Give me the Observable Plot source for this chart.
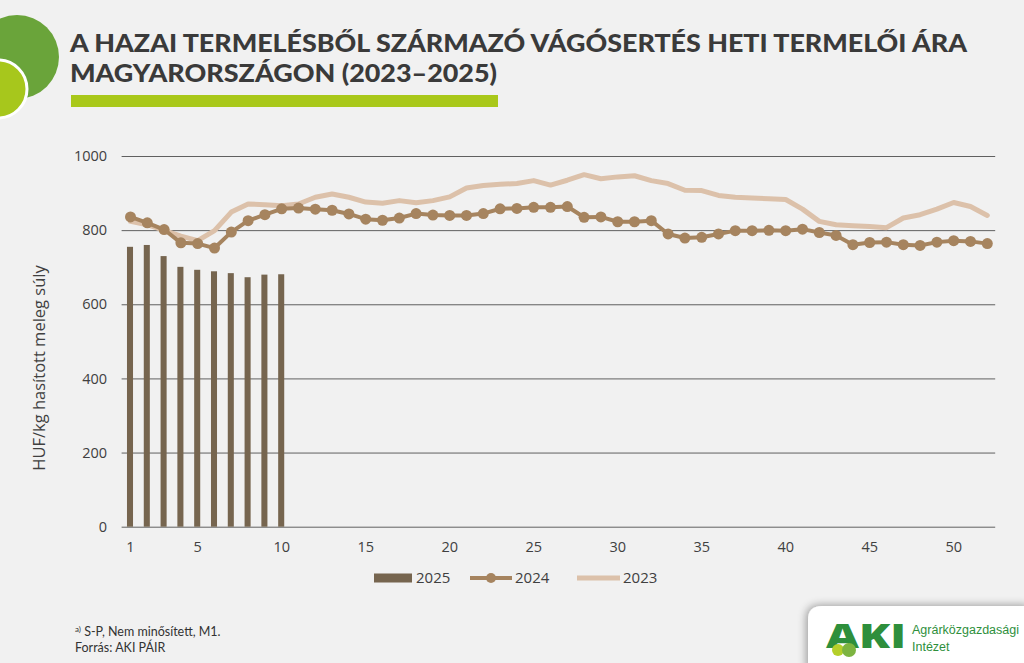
<!DOCTYPE html>
<html>
<head>
<meta charset="utf-8">
<script src="https://cdn.jsdelivr.net/npm/d3@7"></script>
<script src="https://cdn.jsdelivr.net/npm/@observablehq/plot@0.6"></script>
<style>
  html, body { margin: 0; padding: 0; background: #f1f1f1; }
  #page { position: relative; width: 1024px; height: 663px; overflow: hidden; background: #f1f1f1; font-family: "Open Sans", sans-serif; }
  #deco, #legend, #logo { position: absolute; left: 0; top: 0; }
  #chart { position: absolute; left: 0; top: 120px; }
  #foot { position: absolute; left: 75px; top: 621px; font-family: Lato, sans-serif; font-size: 12.5px; line-height: 16px; color: #333; }
  #foot sup { font-size: 8px; vertical-align: 4px; }
</style>
</head>
<body>
<div id="page">
  <svg id="deco" width="1024" height="120"></svg>
  <div id="chart"></div>
  <svg id="legend" width="1024" height="663" style="pointer-events:none"></svg>
  <div id="foot"><sup>a)</sup> S-P, Nem minősített, M1.<br>Forrás: AKI PÁIR</div>
  <svg id="logo" width="1024" height="663" style="pointer-events:none"></svg>
</div>
<script>
// ---- Data ----
const weeks = d3.range(1, 53);
const xTickLabels = [1, 5, 10, 15, 20, 25, 30, 35, 40, 45, 50];
const yTickLabels = [0, 200, 400, 600, 800, 1000];
const seriesNames = ["2025", "2024", "2023"];

const weeks2025 = [1, 2, 3, 4, 5, 6, 7, 8, 9, 10];
const values2025 = [755, 760, 730, 701, 693, 689, 684, 673, 680, 681];

const values2024 = [837, 821, 803, 767, 765, 753, 796, 827, 843, 859,
                    861, 858, 855, 845, 831, 828, 834, 846, 842, 841,
                    841, 846, 859, 860, 863, 863, 865, 836, 837, 824,
                    824, 827, 791, 780, 782, 791, 800, 800, 801, 800,
                    804, 795, 787, 762, 768, 769, 762, 760, 769, 773,
                    771, 765];

const values2023 = [825, 816, 801, 785, 773, 800, 850, 872, 870, 867,
                    872, 890, 899, 890, 877, 874, 881, 875, 881, 891,
                    915, 922, 925, 927, 935, 923, 936, 951, 940, 945,
                    948, 935, 927, 909, 908, 895, 890, 888, 886, 884,
                    858, 825, 816, 813, 811, 808, 834, 843, 858, 876,
                    865, 841];

const colors = { "2025": "#76654f", "2024": "#a6845f", "2023": "#dcc1aa" };

const data2025 = weeks2025.map((w, i) => ({ week: w, value: values2025[i] }));
const data2024 = weeks.map((w, i) => ({ week: w, value: values2024[i] }));
const data2023 = weeks.map((w, i) => ({ week: w, value: values2023[i] }));

// ---- Decoration / title ----
const deco = d3.select("#deco");
deco.append("circle").attr("cx", 17).attr("cy", 57).attr("r", 42).attr("fill", "#6aa43a");
deco.append("circle").attr("cx", -2).attr("cy", 89).attr("r", 29).attr("fill", "#a7c71c").attr("stroke", "#ffffff").attr("stroke-width", 3);
const titleLines = ["A HAZAI TERMELÉSBŐL SZÁRMAZÓ VÁGÓSERTÉS HETI TERMELŐI ÁRA", "MAGYARORSZÁGON (2023–2025)"];
const titleWidths = [897, 427];
const titleBaselines = [52, 81.5];
titleLines.forEach((t, i) => {
  deco.append("text").attr("x", 70).attr("y", titleBaselines[i])
    .attr("textLength", titleWidths[i]).attr("lengthAdjust", "spacingAndGlyphs")
    .attr("font-family", "Lato, sans-serif").attr("font-weight", 900).attr("font-size", 24)
    .attr("fill", "#3a3a3a").text(t);
});
deco.append("rect").attr("x", 71).attr("y", 95).attr("width", 427).attr("height", 12).attr("fill", "#a9c81a");

// ---- Chart ----
const H = 450;
const plot = Plot.plot({
  width: 1024,
  height: H,
  marginTop: 36,
  marginBottom: H - 406.7,
  marginLeft: 121.6,
  marginRight: 28.8,
  style: { background: "transparent", fontFamily: "'Open Sans', sans-serif", fontSize: "14px", color: "#404040" },
  x: { type: "band", domain: weeks, paddingInner: 0.64, paddingOuter: 0.32, label: null },
  y: { domain: [0, 1000], label: null },
  marks: [
    Plot.gridY(yTickLabels, { stroke: "#606060", strokeOpacity: 1, strokeWidth: 1 }),
    Plot.axisY(yTickLabels, { tickSize: 0, tickPadding: 15, label: null, fontSize: 14.5, fill: "#404040", tickFormat: d => String(d) }),
    Plot.axisX(xTickLabels, { tickSize: 0, tickPadding: 15, label: null, fontSize: 14.5, fill: "#404040" }),
    Plot.barY(data2025, { x: "week", y: "value", fill: colors["2025"] }),
    Plot.line(data2023, { x: "week", y: "value", stroke: colors["2023"], strokeWidth: 5 }),
    Plot.line(data2024, { x: "week", y: "value", stroke: colors["2024"], strokeWidth: 4 }),
    Plot.dot(data2024, { x: "week", y: "value", r: 5.5, fill: colors["2024"] })
  ]
});
document.getElementById("chart").appendChild(plot);
d3.select(plot).append("text")
  .attr("transform", "translate(45,248) rotate(-90)")
  .attr("text-anchor", "middle")
  .attr("font-family", "'Open Sans', sans-serif")
  .attr("font-size", 16.5).attr("fill", "#404040")
  .text("HUF/kg hasított meleg súly");

// ---- Legend ----
const lg = d3.select("#legend");
const ly = 578;
lg.append("rect").attr("x", 374).attr("y", ly - 4.5).attr("width", 38).attr("height", 9).attr("fill", colors["2025"]);
lg.append("line").attr("x1", 470).attr("x2", 512).attr("y1", ly).attr("y2", ly).attr("stroke", colors["2024"]).attr("stroke-width", 4);
lg.append("circle").attr("cx", 491).attr("cy", ly).attr("r", 5).attr("fill", colors["2024"]);
lg.append("line").attr("x1", 577).attr("x2", 620).attr("y1", ly).attr("y2", ly).attr("stroke", colors["2023"]).attr("stroke-width", 5);
[[416, seriesNames[0]], [515, seriesNames[1]], [623, seriesNames[2]]].forEach(([x, t]) => {
  lg.append("text").attr("x", x).attr("y", ly).attr("dy", "0.35em")
    .attr("font-family", "'Open Sans', sans-serif").attr("font-size", 15).attr("fill", "#404040").text(t);
});

// ---- Logo ----
const lo = d3.select("#logo");
const defs = lo.append("defs");
const f = defs.append("filter").attr("id", "sh").attr("x", "-20%").attr("y", "-40%").attr("width", "140%").attr("height", "180%");
f.append("feGaussianBlur").attr("in", "SourceAlpha").attr("stdDeviation", 4);
f.append("feOffset").attr("dx", -2).attr("dy", -1).attr("result", "b");
f.append("feComponentTransfer").append("feFuncA").attr("type", "linear").attr("slope", 0.35);
const m = f.append("feMerge"); m.append("feMergeNode"); m.append("feMergeNode").attr("in", "SourceGraphic");
lo.append("path").attr("d", "M808,670 L808,620 Q808,606 822,606 L1030,606 L1030,670 Z").attr("fill", "#ffffff").attr("filter", "url(#sh)");
lo.append("text").attr("x", 826).attr("y", 648).attr("textLength", 80).attr("lengthAdjust", "spacingAndGlyphs")
  .attr("font-family", "'Open Sans', sans-serif").attr("font-weight", 800).attr("font-size", 34).attr("fill", "#2e8f3c").text("AKI");
lo.append("circle").attr("cx", 838).attr("cy", 650).attr("r", 6).attr("fill", "#b5cf2a");
lo.append("circle").attr("cx", 849).attr("cy", 650).attr("r", 7).attr("fill", "#7db441");
lo.append("text").attr("x", 912).attr("y", 634).attr("font-family", "'Liberation Sans', Arial, sans-serif").attr("font-size", 12.5).attr("fill", "#2e8f3c").text("Agrárközgazdasági");
lo.append("text").attr("x", 912).attr("y", 651).attr("font-family", "'Liberation Sans', Arial, sans-serif").attr("font-size", 12.5).attr("fill", "#2e8f3c").text("Intézet");
</script>
</body>
</html>
